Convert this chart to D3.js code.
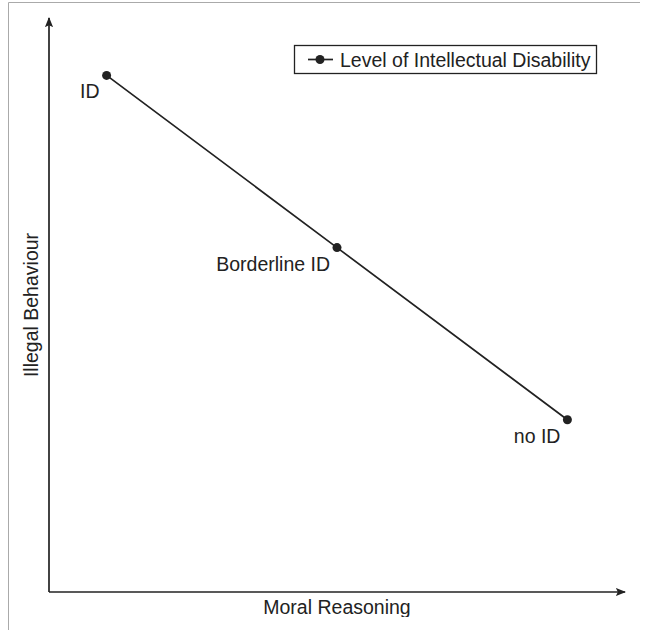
<!DOCTYPE html>
<html>
<head>
<meta charset="utf-8">
<script src="https://cdn.jsdelivr.net/npm/d3@7"></script>
<style>
  body { margin: 0; background: #fff; }
  svg { display: block; font-family: "Liberation Sans", Arial, sans-serif; }
</style>
</head>
<body>
<div id="chart"></div>
<script>
// data
const levels = ["ID", "Borderline ID", "no ID"];
const moralReasoning = [1, 5, 9];
const illegalBehaviour = [9, 6, 3];
const seriesName = "Level of Intellectual Disability";
const xLabel = "Moral Reasoning";
const yLabel = "Illegal Behaviour";

const width = 646, height = 630;
const margin = {top: 18, right: 21, bottom: 38, left: 49};
const ink = "#222";
const fontSize = 19.5;

const x = d3.scaleLinear([0, 10], [margin.left, width - margin.right]);
const y = d3.scaleLinear([0, 10], [height - margin.bottom, margin.top]);

const data = levels.map((d, i) => ({level: d, x: moralReasoning[i], y: illegalBehaviour[i]}));

const svg = d3.create("svg")
    .attr("width", width)
    .attr("height", height)
    .attr("viewBox", [0, 0, width, height]);

// page frame (grey lines at left and top)
svg.append("path")
    .attr("d", `M8.5,${height} V2.5 H640`)
    .attr("fill", "none")
    .attr("stroke", "#aaa")
    .attr("stroke-width", 1);

svg.append("defs").append("marker")
    .attr("id", "arrow")
    .attr("viewBox", "0 0 10 10")
    .attr("refX", 9).attr("refY", 5)
    .attr("markerWidth", 6).attr("markerHeight", 6)
    .attr("markerUnits", "strokeWidth")
    .attr("orient", "auto")
  .append("path")
    .attr("d", "M0,1 L10,5 L0,9 L2,5 Z")
    .attr("fill", ink);

// axes: plain arrows, no ticks
svg.append("line")
    .attr("x1", x(0)).attr("y1", y(0))
    .attr("x2", x(10)).attr("y2", y(0))
    .attr("stroke", ink).attr("stroke-width", 1.7)
    .attr("marker-end", "url(#arrow)");

svg.append("line")
    .attr("x1", x(0)).attr("y1", y(0))
    .attr("x2", x(0)).attr("y2", y(10))
    .attr("stroke", ink).attr("stroke-width", 1.7)
    .attr("marker-end", "url(#arrow)");

// axis labels
svg.append("clipPath").attr("id", "cut")
  .append("rect").attr("x", 0).attr("y", 0).attr("width", width).attr("height", 617);

svg.append("text")
    .attr("x", (x(0) + x(10)) / 2)
    .attr("y", 614)
    .attr("text-anchor", "middle")
    .attr("font-size", fontSize)
    .attr("fill", ink)
    .attr("clip-path", "url(#cut)")
    .text(xLabel);

svg.append("text")
    .attr("transform", `translate(38,${(y(0) + y(10)) / 2}) rotate(-90)`)
    .attr("text-anchor", "middle")
    .attr("font-size", fontSize)
    .attr("fill", ink)
    .text(yLabel);

// series
const line = d3.line().x(d => x(d.x)).y(d => y(d.y));

svg.append("path")
    .datum(data)
    .attr("d", line)
    .attr("fill", "none")
    .attr("stroke", ink)
    .attr("stroke-width", 1.7);

svg.append("g")
  .selectAll("circle")
  .data(data)
  .join("circle")
    .attr("cx", d => x(d.x))
    .attr("cy", d => y(d.y))
    .attr("r", 4.5)
    .attr("fill", ink);

svg.append("g")
  .selectAll("text")
  .data(data)
  .join("text")
    .attr("x", d => x(d.x) - 7)
    .attr("y", d => y(d.y) + 23)
    .attr("text-anchor", "end")
    .attr("font-size", fontSize)
    .attr("fill", ink)
    .text(d => d.level);

// legend
const legend = svg.append("g").attr("transform", "translate(294,45)");
legend.append("rect")
    .attr("x", 0.5).attr("y", 0.5)
    .attr("width", 302).attr("height", 28)
    .attr("fill", "#fff")
    .attr("stroke", ink).attr("stroke-width", 1.3);
legend.append("line")
    .attr("x1", 14).attr("x2", 39)
    .attr("y1", 14.5).attr("y2", 14.5)
    .attr("stroke", ink).attr("stroke-width", 1.7);
legend.append("circle")
    .attr("cx", 26).attr("cy", 14.5).attr("r", 4.5)
    .attr("fill", ink);
legend.append("text")
    .attr("x", 46).attr("y", 21.5)
    .attr("font-size", fontSize)
    .attr("fill", ink)
    .text(seriesName);

document.getElementById("chart").appendChild(svg.node());
</script>
</body>
</html>
